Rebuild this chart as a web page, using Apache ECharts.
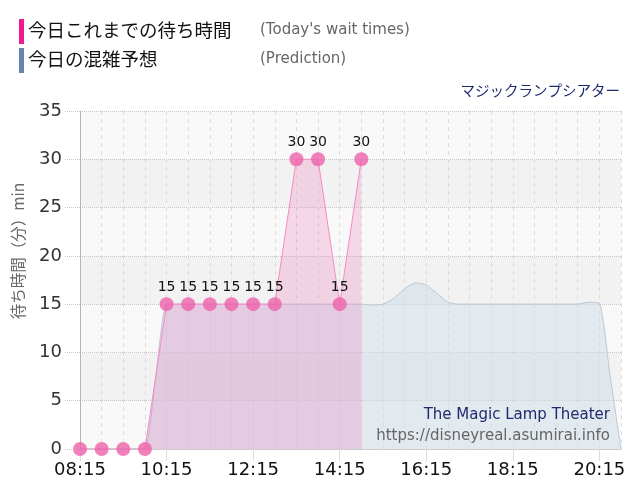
<!DOCTYPE html>
<html>
<head>
    <meta charset="utf-8" />
    <title>マジックランプシアター 待ち時間</title>
    <style>
        html, body { margin: 0; padding: 0; background: #fff; }
        #waitChart { width: 640px; height: 500px; }
    </style>
</head>
<body>
    <div id="waitChart"></div>

    <script type="text/javascript" src="https://cdn.jsdelivr.net/npm/echarts@6/dist/echarts.min.js"></script>
    <script type="text/javascript">
        //今日これまでの待ち時間（30分ごと）
        const waitTimes = ['08:15', '08:45', '09:15', '09:45', '10:15', '10:45', '11:15',
            '11:45', '12:15', '12:45', '13:15', '13:45', '14:15', '14:45'];
        const waitValues = [0, 0, 0, 0, 15, 15, 15, 15, 15, 15, 30, 30, 15, 30];

        //今日の混雑予想（08:15から15分ごと）
        const predStart = '08:15';
        const predStep = 15;
        const predValues = [
            0, 0, 0, 0, 0, 0, 0, 7.5,                 // 08:15 - 10:00
            15, 15, 15, 15, 15, 15, 15, 15, 15, 15,    // 10:15 - 12:30
            15, 15, 15, 15, 15, 15, 15, 15, 15, 14.9,  // 12:45 - 15:00
            15, 15.6, 16.6, 17.2, 17.0, 16.1, 15.2,    // 15:15 - 16:45
            15, 15, 15, 15, 15, 15, 15, 15, 15, 15, 15, 15, // 17:00 - 19:45
            15.2, 15.1, 7.5, 0                         // 20:00 - 20:45
        ];

        //軸
        const xTickLabels = ['08:15', '10:15', '12:15', '14:15', '16:15', '18:15', '20:15'];
        const yTicks = [0, 5, 10, 15, 20, 25, 30, 35];
        const xEnd = '20:45';

        const toMin = function (s) {
            const p = s.split(':');
            return parseInt(p[0], 10) * 60 + parseInt(p[1], 10);
        };
        const baseMin = toMin(predStart);
        const fmt = function (m) {
            const t = m + baseMin;
            const h = Math.floor(t / 60), mm = t % 60;
            return (h < 10 ? '0' : '') + h + ':' + (mm < 10 ? '0' : '') + mm;
        };

        const waitData = waitTimes.map(function (t, i) {
            return [toMin(t) - baseMin, waitValues[i]];
        });
        const predData = predValues.map(function (v, i) {
            return [i * predStep, v];
        });

        const jpFont = '"Noto Sans CJK JP", sans-serif';
        const numFont = '"DejaVu Sans", sans-serif';

        const waitChart = echarts.init(document.getElementById('waitChart'));
        const waitChartOpt = {
            backgroundColor: '#fff',
            animation: false,
            grid: { left: 80, right: 19, top: 111, bottom: 51 },
            graphic: [
                { type: 'rect', left: 19, top: 19, shape: { width: 5, height: 25 }, style: { fill: '#ee1b8f' } },
                { type: 'rect', left: 19, top: 48, shape: { width: 5, height: 25 }, style: { fill: '#6585ad' } },
                {
                    type: 'text', left: 28, top: 21,
                    style: { text: '今日これまでの待ち時間', font: '18.5px ' + jpFont, fill: '#111' }
                },
                {
                    type: 'text', left: 28, top: 50,
                    style: { text: '今日の混雑予想', font: '18.5px ' + jpFont, fill: '#111' }
                },
                {
                    type: 'text', left: 260, top: 23,
                    style: { text: "(Today's wait times)", font: '15px ' + numFont, fill: '#666' }
                },
                {
                    type: 'text', left: 260, top: 52,
                    style: { text: '(Prediction)', font: '15px ' + numFont, fill: '#666' }
                },
                {
                    type: 'text', right: 20, top: 83,
                    style: { text: 'マジックランプシアター', font: '14.5px ' + jpFont, fill: '#1f2a6e' }
                },
                {
                    //縦軸タイトル
                    type: 'text', x: 18, y: 251, rotation: Math.PI / 2,
                    style: {
                        text: '待ち時間（分）min', font: '15.5px ' + jpFont, fill: '#666',
                        align: 'center', verticalAlign: 'middle'
                    }
                },
                {
                    type: 'text', right: 30, top: 408, z: 10,
                    style: { text: 'The Magic Lamp Theater', font: '15px ' + numFont, fill: '#1f2a6e' }
                },
                {
                    type: 'text', right: 30, top: 429, z: 10,
                    style: { text: 'https://disneyreal.asumirai.info', font: '15px ' + numFont, fill: '#666' }
                }
            ],
            xAxis: [{
                type: 'value',
                min: 0,
                max: toMin(xEnd) - baseMin,
                interval: 120,
                axisLine: { show: true, lineStyle: { color: '#ccc' } },
                axisTick: { show: true, length: 12, lineStyle: { color: '#ddd' } },
                axisLabel: {
                    color: '#111', fontSize: 18, fontFamily: numFont, margin: 12,
                    showMaxLabel: false,
                    formatter: function (v) {
                        const s = fmt(v);
                        return xTickLabels.indexOf(s) >= 0 ? s : '';
                    }
                },
                splitLine: { show: false }
            }, {
                //30分ごとの縦グリッド
                type: 'value',
                position: 'bottom',
                min: 0,
                max: toMin(xEnd) - baseMin,
                interval: 30,
                axisLine: { show: false },
                axisTick: { show: false },
                axisLabel: { show: false },
                splitLine: { show: true, lineStyle: { color: '#dcdcdc', type: [4, 4], width: 1 } }
            }],
            yAxis: {
                type: 'value',
                min: yTicks[0],
                max: yTicks[yTicks.length - 1],
                interval: 5,
                axisLine: { show: true, lineStyle: { color: '#b5b5b5' } },
                axisTick: { show: true, length: 15, lineStyle: { color: '#ccc', type: [1, 1] } },
                axisLabel: { color: '#333', fontSize: 18, fontFamily: numFont, margin: 18 },
                splitLine: { show: true, lineStyle: { color: '#c8c8c8', type: [1, 1] } },
                splitArea: { show: true, areaStyle: { color: ['#f9f9f9', '#f2f2f2'] } }
            },
            series: [{
                name: '今日の混雑予想',
                type: 'line',
                data: predData,
                smooth: 0.2,
                showSymbol: false,
                z: 1,
                lineStyle: { color: '#b8c8d6', width: 1 },
                areaStyle: { color: 'rgba(205,219,231,0.75)' }
            }, {
                name: '今日これまでの待ち時間',
                type: 'line',
                data: waitData,
                z: 3,
                symbol: 'circle',
                symbolSize: 14,
                itemStyle: { color: 'rgba(238,98,170,0.8)' },
                lineStyle: { color: '#f48cc4', width: 1 },
                areaStyle: { color: 'rgba(240,110,180,0.35)' },
                label: {
                    show: true,
                    position: 'top',
                    distance: 3,
                    color: '#111',
                    fontSize: 14,
                    fontFamily: numFont,
                    formatter: function (p) { return p.value[1] > 0 ? p.value[1] : ''; }
                }
            }]
        };
        waitChart.setOption(waitChartOpt);
    </script>
</body>
</html>
